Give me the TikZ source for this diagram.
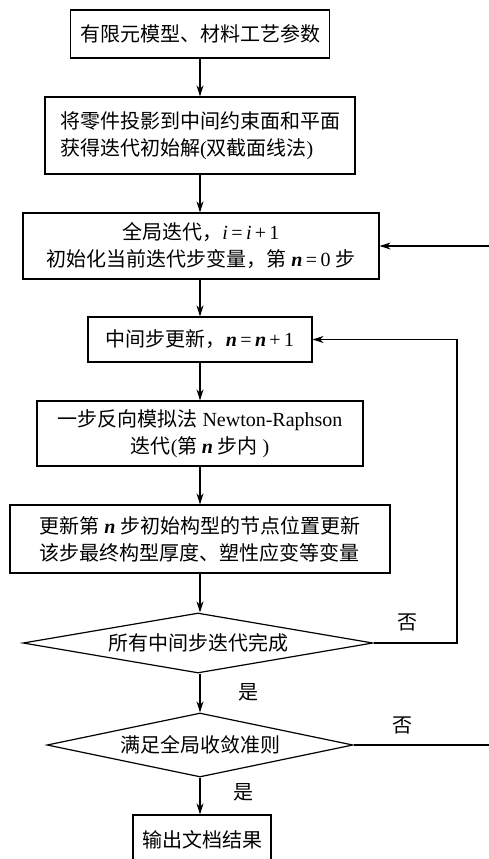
\documentclass[tikz,border=0pt]{standalone}
\usepackage{fontspec}
\setmainfont{Liberation Serif}
\newfontfamily\cjk{Noto Sans CJK SC}
\usetikzlibrary{shapes.geometric,arrows.meta}
\newcommand{\lat}[1]{{\rmfamily #1}}
\newcommand{\vi}{\lat{\textit{i}}}
\newcommand{\vn}{\lat{\textbf{\textit{n}}}}
\newcommand{\eqs}{\lat{\,=\,}}
\newcommand{\pls}{\lat{\,+\,}}
\begin{document}
\begin{tikzpicture}[x=1pt,y=-1pt,
  txt/.style={font=\fontsize{20}{27}\selectfont\cjk},
  box/.style={txt,draw,line width=1.2pt,inner sep=0pt},
  dia/.style={txt,draw,diamond,aspect=5.8,line width=1.2pt,inner sep=0pt},
  arr/.style={line width=1.2pt,-{Stealth[length=11pt,width=7pt]}},
  lbl/.style={txt,inner sep=0pt}]
\useasboundingbox (0,0) rectangle (489,859);
\clip (0,0) rectangle (489,859);

\node[box,minimum width=259pt,minimum height=48pt] (b1) at (200,34) {有限元模型、材料工艺参数};
\node[box,minimum width=310pt,minimum height=77pt,align=left] (b2) at (200,135.5)
  {将零件投影到中间约束面和平面\\获得迭代初始解\lat{(}双截面线法\lat{)}};
\node[box,minimum width=356pt,minimum height=66pt,align=center] (b3) at (201,246)
  {全局迭代，\vi\eqs\vi\pls\lat{1}\\初始化当前迭代步变量，第 \vn\eqs\lat{0} 步};
\node[box,minimum width=224pt,minimum height=45pt] (b4) at (200,339.5) {中间步更新，\vn\eqs\vn\pls\lat{1}};
\node[box,minimum width=326pt,minimum height=65pt,align=center] (b5) at (200,433.5)
  {一步反向模拟法\lat{ Newton-Raphson}\\迭代\lat{(}第 \vn{} 步内\lat{ )}};
\node[box,minimum width=380pt,minimum height=68pt,align=left] (b6) at (200,539)
  {更新第 \vn{} 步初始构型的节点位置更新\\该步最终构型厚度、塑性应变等变量};
\node[dia,minimum width=350pt,minimum height=60pt] (d1) at (198,643) {所有中间步迭代完成};
\node[dia,minimum width=306pt,minimum height=64pt] (d2) at (200,745) {满足全局收敛准则};
\node[box,minimum width=138pt,minimum height=50pt] (b7) at (202,840) {输出文档结果};

\node[lbl] (no1) at (407,622) {否};
\node[lbl] (yes1) at (248,692) {是};
\node[lbl] (no2) at (402,725) {否};
\node[lbl] (yes2) at (243,792) {是};

\coordinate (r1) at (457,643);
\coordinate (r2) at (493,745);

\draw[arr] (b1.south) -- (b1.south |- b2.north);
\draw[arr] (b2.south) -- (b2.south |- b3.north);
\draw[arr] (b3.south -| b2.south) -- (b2.south |- b4.north);
\draw[arr] (b4.south) -- (b4.south |- b5.north);
\draw[arr] (b5.south) -- (b5.south |- b6.north);
\draw[arr] (b6.south) -- (b6.south |- d1.north);
\draw[arr] (d1.south -| b6.south) -- (b6.south |- d2.north);
\draw[arr] (d2.south) -- (d2.south |- b7.north);
\draw[arr] (d1.east) -- (r1) |- (b4.east);
\draw[arr] (d2.east) -- (r2) |- (b3.east);
\end{tikzpicture}
\end{document}
